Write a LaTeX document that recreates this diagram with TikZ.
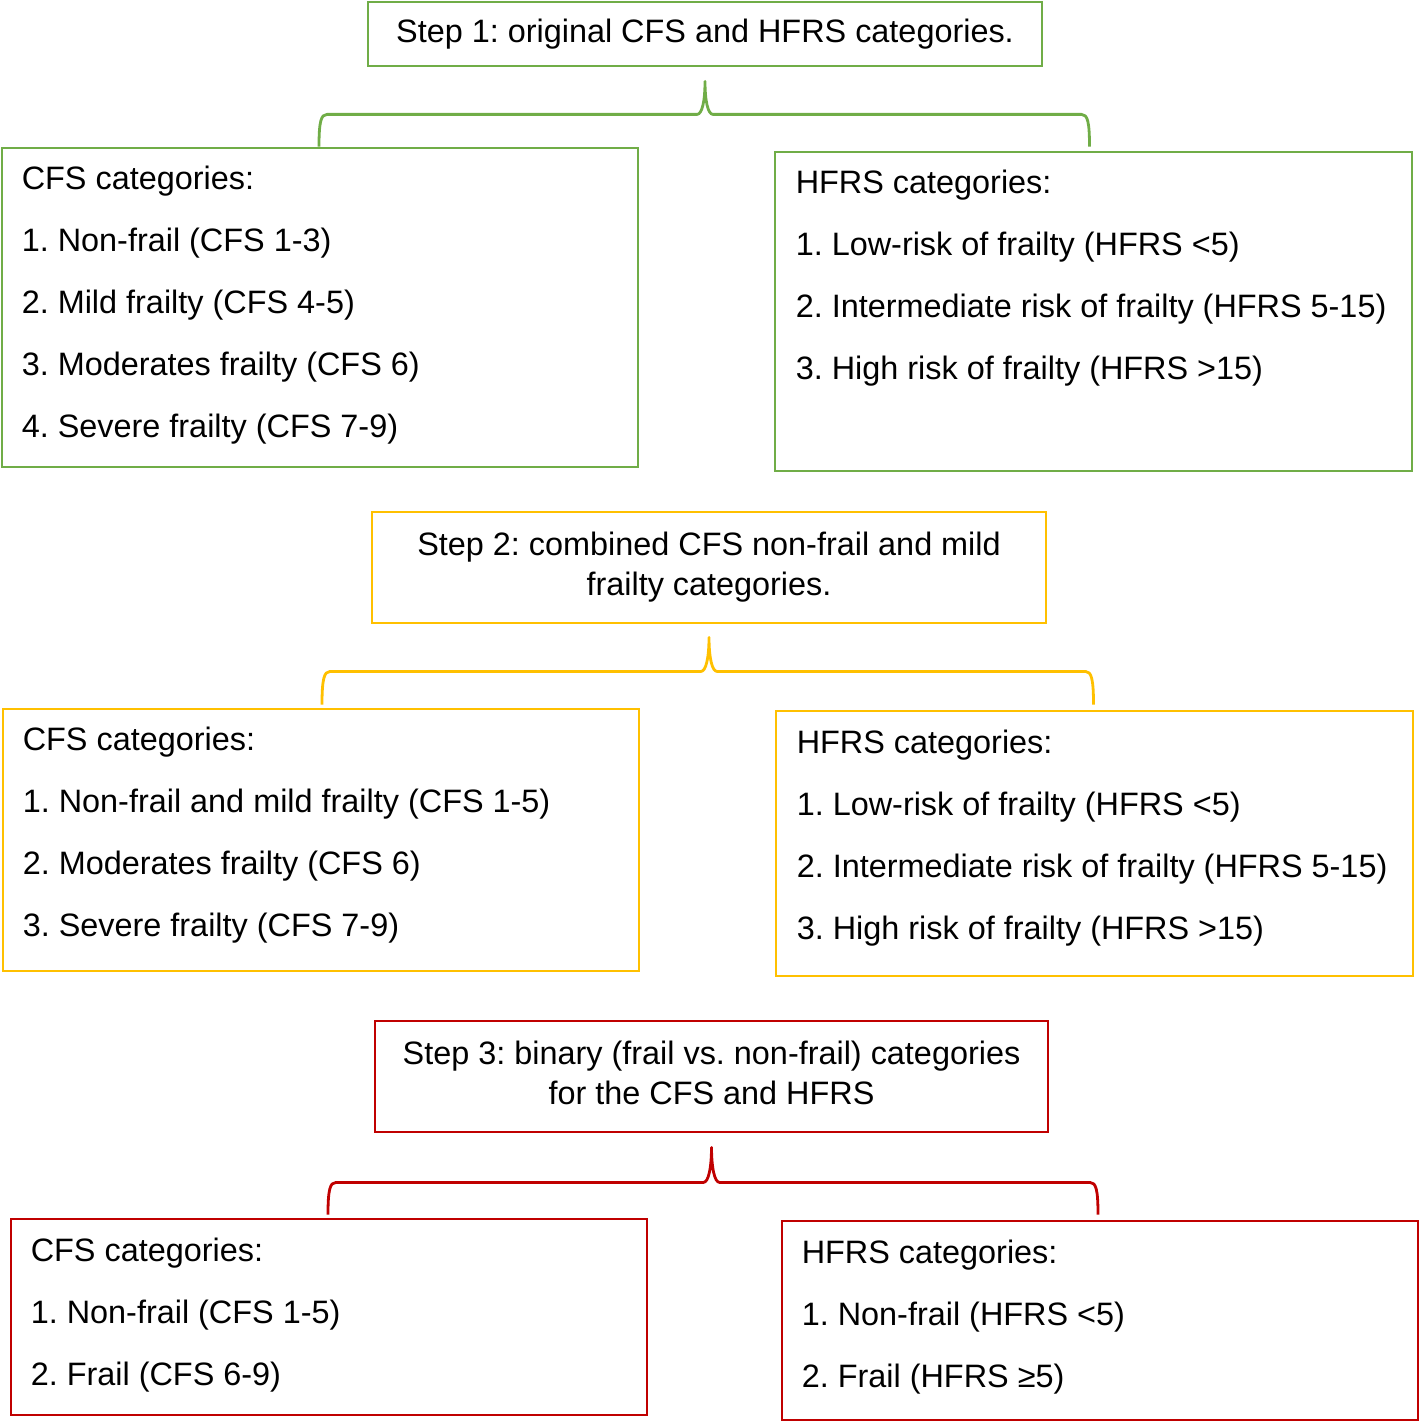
\documentclass[tikz,border=0pt]{standalone}
\usepackage{fontspec}
\setmainfont{Liberation Sans}
\frenchspacing
\usetikzlibrary{calc}
\definecolor{stepgreen}{HTML}{70AD47}
\definecolor{stepyellow}{HTML}{FFC000}
\definecolor{stepred}{HTML}{C00000}
\tikzset{
  box/.style={
    draw,
    line width=2.8bp,
    fill=white,
    inner sep=0pt
  },
  stepbox/.style={
    box,
    align=center,
    font=\fontsize{32.4bp}{40bp}\selectfont
  },
  listtext/.style={
    anchor=north west,
    align=left,
    inner sep=0pt,
    font=\fontsize{32.4bp}{62bp}\selectfont
  },
  brace/.style={
    line width=2.8bp,
    line join=round
  },
  greenline/.style={draw=stepgreen},
  yellowline/.style={draw=stepyellow},
  redline/.style={draw=stepred}
}

\begin{document}
\begin{tikzpicture}[x=1bp,y=-1bp]
\useasboundingbox (0,0) rectangle (1420,1423);

% ---------------------------------------------------------------------------
% 1. Original categories
% ---------------------------------------------------------------------------
\node[stepbox, greenline, minimum width=674bp, minimum height=64bp] (step1) at (705,34)
  {Step 1: original CFS and HFRS categories.};
\node[box, greenline, minimum width=636bp, minimum height=319bp] (cfsA) at (320,307.5) {};
\node[box, greenline, minimum width=637bp, minimum height=319bp] (hfrsA) at (1093.5,311.5) {};

\node[listtext] (cfsAtext) at ([shift={(21,19)}]cfsA.north west)
  {CFS categories:\\1. Non-frail (CFS 1-3)\\2. Mild frailty (CFS 4-5)\\3. Moderates frailty (CFS 6)\\4. Severe frailty (CFS 7-9)};
\node[listtext] (hfrsAtext) at ([shift={(22,19)}]hfrsA.north west)
  {HFRS categories:\\1. Low-risk of frailty (HFRS <5)\\2. Intermediate risk of frailty (HFRS 5-15)\\3. High risk of frailty (HFRS >15)};

\coordinate (apexA) at ($(step1.south)+(0,14)$);
\coordinate (levelA) at ($(apexA)+(0,33)$);
\coordinate (endAL) at ($(cfsA.north)+(-1,0)$);
\coordinate (endAR) at ($(hfrsA.north |- cfsA.north)+(-4,0)$);
\draw[brace, greenline] (endAL) .. controls +(0,-25) and +(-6,0) .. ($(endAL |- levelA)+(8,0)$)
  -- ($(levelA)+(-8,0)$) .. controls +(5,0) and +(0,20) .. (apexA)
  .. controls +(0,20) and +(-5,0) .. ($(levelA)+(8,0)$)
  -- ($(endAR |- levelA)+(-8,0)$) .. controls +(6,0) and +(0,-25) .. (endAR);

% ---------------------------------------------------------------------------
% 2. Combined CFS categories
% ---------------------------------------------------------------------------
\node[stepbox, yellowline, minimum width=674bp, minimum height=111bp] (step2) at (709,567.5)
  {Step 2: combined CFS non-frail and mild\\frailty categories.};
\node[box, yellowline, minimum width=636bp, minimum height=262bp] (cfsB) at (321,840) {};
\node[box, yellowline, minimum width=637bp, minimum height=265bp] (hfrsB) at (1094.5,843.5) {};

\node[listtext] (cfsBtext) at ([shift={(21,19)}]cfsB.north west)
  {CFS categories:\\1. Non-frail and mild frailty (CFS 1-5)\\2. Moderates frailty (CFS 6)\\3. Severe frailty (CFS 7-9)};
\node[listtext] (hfrsBtext) at ([shift={(22,20)}]hfrsB.north west)
  {HFRS categories:\\1. Low-risk of frailty (HFRS <5)\\2. Intermediate risk of frailty (HFRS 5-15)\\3. High risk of frailty (HFRS >15)};

\coordinate (apexB) at ($(step2.south)+(0,13)$);
\coordinate (levelB) at ($(apexB)+(0,34)$);
\coordinate (endBL) at ($(cfsB.north)+(1,-3)$);
\coordinate (endBR) at ($(hfrsB.north |- endBL)+(-1,0)$);
\draw[brace, yellowline] (endBL) .. controls +(0,-25) and +(-6,0) .. ($(endBL |- levelB)+(8,0)$)
  -- ($(levelB)+(-8,0)$) .. controls +(5,0) and +(0,20) .. (apexB)
  .. controls +(0,20) and +(-5,0) .. ($(levelB)+(8,0)$)
  -- ($(endBR |- levelB)+(-8,0)$) .. controls +(6,0) and +(0,-25) .. (endBR);

% ---------------------------------------------------------------------------
% 3. Binary categories
% ---------------------------------------------------------------------------
\node[stepbox, redline, minimum width=673bp, minimum height=111bp] (step3) at (711.5,1076.5)
  {Step 3: binary (frail vs. non-frail) categories\\for the CFS and HFRS\vphantom{()}};
\node[box, redline, minimum width=636bp, minimum height=196bp] (cfsC) at (329,1317) {};
\node[box, redline, minimum width=636bp, minimum height=199bp] (hfrsC) at (1100,1320.5) {};

\node[listtext] (cfsCtext) at ([shift={(21,20)}]cfsC.north west)
  {CFS categories:\\1. Non-frail (CFS 1-5)\\2. Frail (CFS 6-9)};
\node[listtext] (hfrsCtext) at ([shift={(21,20)}]hfrsC.north west)
  {HFRS categories:\\1. Non-frail (HFRS <5)\\2. Frail (HFRS ≥5)};

\coordinate (apexC) at ($(step3.south)+(0,14)$);
\coordinate (levelC) at ($(apexC)+(0,35)$);
\coordinate (endCL) at ($(cfsC.north)+(-1,-3)$);
\coordinate (endCR) at ($(hfrsC.north |- endCL)+(-2,0)$);
\draw[brace, redline] (endCL) .. controls +(0,-25) and +(-6,0) .. ($(endCL |- levelC)+(8,0)$)
  -- ($(levelC)+(-8,0)$) .. controls +(5,0) and +(0,20) .. (apexC)
  .. controls +(0,20) and +(-5,0) .. ($(levelC)+(8,0)$)
  -- ($(endCR |- levelC)+(-8,0)$) .. controls +(6,0) and +(0,-25) .. (endCR);

\end{tikzpicture}
\end{document}
